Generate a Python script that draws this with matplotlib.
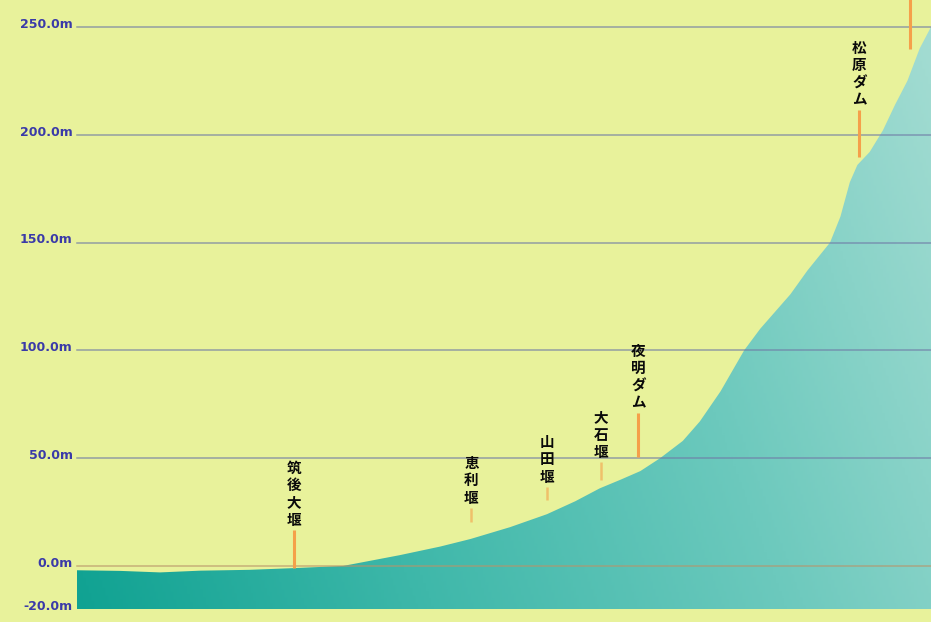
import matplotlib
matplotlib.use("Agg")
import matplotlib.pyplot as plt
import numpy as np
from matplotlib.patches import Polygon
from matplotlib.colors import LinearSegmentedColormap

plt.rcParams['font.family'] = ['Noto Sans CJK JP', 'DejaVu Sans']

# river bed profile: distance from the mouth (km) vs bed elevation (m)
dist_km = [0, 4.6, 8.8, 13.0, 18.3, 23.0, 28.2, 34.2, 38.5, 41.7, 45.9, 49.8,
           52.8, 55.4, 57.6, 59.7, 61.8, 64.2, 66.0, 68.2, 70.7, 72.4, 75.6,
           77.4, 79.8, 80.9, 81.9, 82.7, 84.0, 85.4, 86.7, 88.0, 89.3, 90.5]
bed_m = [-2, -2.3, -3, -2.2, -1.8, -1, 0, 5, 9, 12.5, 18, 24,
         30, 36, 40, 44, 50, 58, 67, 81, 100, 110, 126,
         137, 150, 162, 178, 186, 192, 202, 214, 225, 240, 250]

# weirs and dams
fac_names = ["筑後大堰", "恵利堰", "山田堰", "大石堰", "夜明ダム", "松原ダム", ""]
fac_km = [23.0, 41.8, 49.8, 55.5, 59.5, 82.9, 88.3]
fac_low = [-0.9, 20.4, 30.6, 39.9, 50.6, 189.7, 240]
fac_high = [16.7, 27.0, 36.7, 48.2, 71.0, 211.5, 265]
fac_faint = [False, True, True, True, False, False, False]

grid_levels = [250, 200, 150, 100, 50, 0]
tick_labels = ["250.0m", "200.0m", "150.0m", "100.0m", "50.0m", "0.0m", "-20.0m"]
tick_values = [250, 200, 150, 100, 50, 0, -20]

bg = '#e8f29b'
fig = plt.figure(figsize=(9.31, 6.22), dpi=100, facecolor=bg)
ax = fig.add_axes([0, 0, 1, 1])
ax.set_facecolor(bg)
x_left, x_right = -8.16, 90.5
y_bot, y_top = -26.0, 262.5
ax.set_xlim(x_left, x_right)
ax.set_ylim(y_bot, y_top)
ax.axis('off')

# gradient filled profile
base = -20
poly_xy = [(dist_km[0], base)] + list(zip(dist_km, bed_m)) + [(dist_km[-1], base)]
patch = Polygon(poly_xy, closed=True, facecolor='none', edgecolor='none')
ax.add_patch(patch)
cmap = LinearSegmentedColormap.from_list('riv', ['#10a292', '#3fb8aa', '#6cc9bd', '#a3dcd2'])
gx = np.linspace(0, 1, 300)
gy = np.linspace(0, 1, 300)
GX, GY = np.meshgrid(gx, gy)
grad = 0.8 * GX + 0.2 * (1 - GY)
im = ax.imshow(grad, cmap=cmap, extent=[dist_km[0], dist_km[-1], base, bed_m[-1]],
               origin='upper', aspect='auto', zorder=1, vmin=0, vmax=1)
im.set_clip_path(patch)

# horizontal reference lines
for lv in grid_levels:
    col = '#b8946a' if lv == 0 else '#6f7aa6'
    ax.plot([0, x_right], [lv, lv], color=col, lw=1.1, alpha=0.7, zorder=2)

# y labels
for val, lab in zip(tick_values, tick_labels):
    ax.text(-0.45, val + 1.2, lab, ha='right', va='center', fontsize=9,
            fontweight='bold', color='#3a3aa8', family='DejaVu Sans', zorder=3)

# facility markers
for name, km, lo, hi, faint in zip(fac_names, fac_km, fac_low, fac_high, fac_faint):
    ax.plot([km, km], [lo, hi], color='#f5a04a', lw=2.2 if not faint else 1.8,
            alpha=0.6 if faint else 1.0, zorder=4, solid_capstyle='butt')
    if name:
        ax.text(km, hi + 1.0, "\n".join(name), ha='center', va='bottom',
                fontsize=10.5, fontweight='bold', color='#0a0a0a',
                linespacing=1.1, zorder=5)

fig.savefig('out.png', dpi=100, facecolor=bg)
